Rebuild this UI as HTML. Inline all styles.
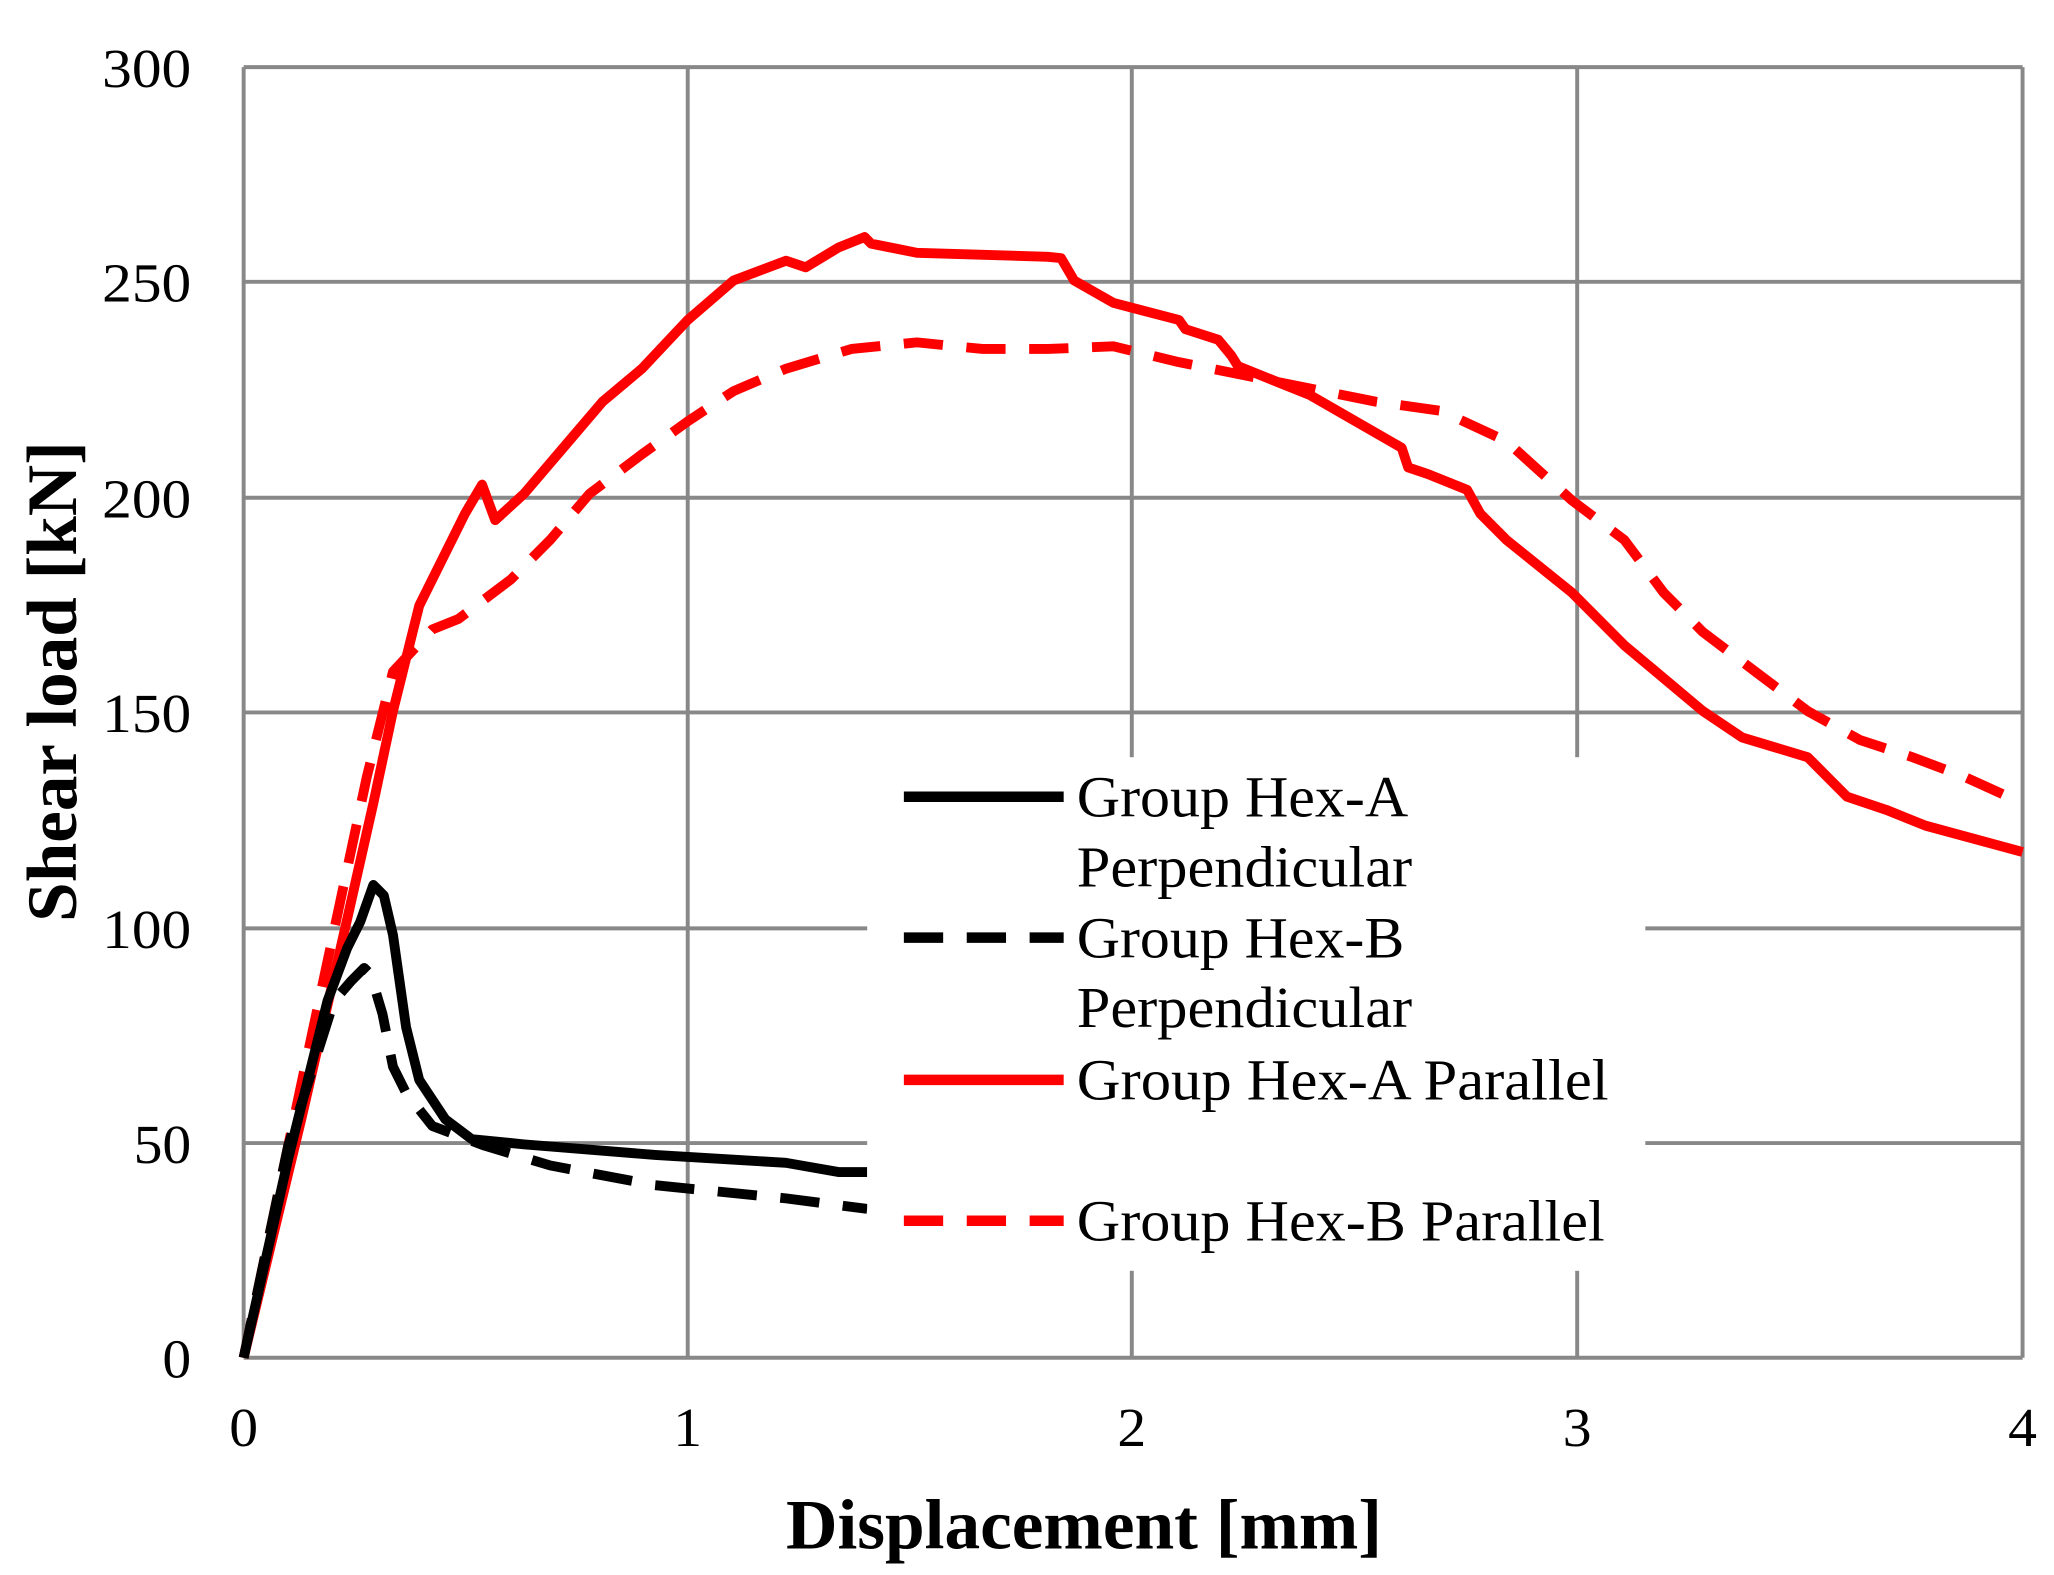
<!DOCTYPE html>
<html><head><style>html,body{margin:0;padding:0;background:#fff}svg{display:block}</style></head>
<body>
<svg width="2054" height="1575" viewBox="0 0 1568 1196" preserveAspectRatio="none" xmlns="http://www.w3.org/2000/svg" font-family="'Liberation Serif', serif">
<rect width="1568" height="1196" fill="#fff"/>
<g stroke="#888" stroke-width="3" fill="none">
<line x1="186" y1="51" x2="1544" y2="51"/><line x1="186" y1="214" x2="1544" y2="214"/><line x1="186" y1="378" x2="1544" y2="378"/><line x1="186" y1="541" x2="1544" y2="541"/><line x1="186" y1="705" x2="1544" y2="705"/><line x1="186" y1="868" x2="1544" y2="868"/><line x1="186" y1="1031" x2="1544" y2="1031"/>
<line x1="186" y1="51" x2="186" y2="1031"/><line x1="525" y1="51" x2="525" y2="1031"/><line x1="864" y1="51" x2="864" y2="1031"/><line x1="1204" y1="51" x2="1204" y2="1031"/><line x1="1544" y1="51" x2="1544" y2="1031"/>
</g>
<g fill="none" stroke-width="7.5" stroke-linejoin="round" stroke-linecap="butt">
<polyline stroke="#f00" points="186,1031 230,850 260,720 285,610 300,540 320,460 340,420 355,390 368,368 378,395 400,375 430,340 460,305 490,280 525,243 560,213 600,198 615,203 640,188 660,180 665,185 700,192 800,195 810,196 820,213 850,230 900,243 905,250 930,258 940,270 945,278 1000,300 1070,340 1075,355 1090,360 1120,372 1130,390 1150,410 1200,450 1240,490 1270,515 1300,540 1330,560 1380,575 1395,590 1410,605 1440,615 1470,627 1544,647"/>
<polyline stroke="#f00" stroke-dasharray="30,18" points="186,1031 220,870 250,730 280,590 300,510 330,478 350,470 370,455 390,440 420,410 450,375 490,345 525,320 560,297 600,280 650,265 700,260 750,265 800,265 850,263 900,275 950,285 1000,295 1050,305 1100,312 1150,335 1200,380 1240,410 1270,450 1300,480 1340,510 1380,540 1420,562 1460,575 1500,590 1544,610"/>
<polyline stroke="#000" points="186,1031 220,880 250,760 265,720 275,700 285,672 293,680 300,710 310,780 320,820 340,850 360,865 400,869 500,877 600,883 640,890 662,890"/>
<polyline stroke="#000" stroke-dasharray="30,18" points="186,1031 220,870 255,760 268,745 278,735 283,740 292,770 300,810 310,830 330,855 370,870 420,885 500,900 600,910 662,918"/>
</g>
<rect x="662" y="575" width="594" height="390" fill="#fff"/>
<g stroke-width="8">
<line x1="690" y1="605" x2="812" y2="605" stroke="#000"/>
<line x1="690" y1="712" x2="812" y2="712" stroke="#000" stroke-dasharray="30,18"/>
<line x1="690" y1="820" x2="812" y2="820" stroke="#f00"/>
<line x1="690" y1="927" x2="812" y2="927" stroke="#f00" stroke-dasharray="30,18"/>
</g>
<g font-size="44" fill="#000" lengthAdjust="spacingAndGlyphs">
<text x="822" y="620" textLength="253" lengthAdjust="spacingAndGlyphs">Group Hex-A</text>
<text x="822" y="673" textLength="256" lengthAdjust="spacingAndGlyphs">Perpendicular</text>
<text x="822" y="727" textLength="250" lengthAdjust="spacingAndGlyphs">Group Hex-B</text>
<text x="822" y="780" textLength="256" lengthAdjust="spacingAndGlyphs">Perpendicular</text>
<text x="822" y="835" textLength="406" lengthAdjust="spacingAndGlyphs">Group Hex-A Parallel</text>
<text x="822" y="942" textLength="403" lengthAdjust="spacingAndGlyphs">Group Hex-B Parallel</text>
</g>
<g font-size="42" fill="#000">
<text x="78" y="66" textLength="68" lengthAdjust="spacingAndGlyphs">300</text>
<text x="78" y="229" textLength="68" lengthAdjust="spacingAndGlyphs">250</text>
<text x="78" y="393" textLength="68" lengthAdjust="spacingAndGlyphs">200</text>
<text x="78" y="556" textLength="68" lengthAdjust="spacingAndGlyphs">150</text>
<text x="78" y="720" textLength="68" lengthAdjust="spacingAndGlyphs">100</text>
<text x="102" y="883" textLength="44" lengthAdjust="spacingAndGlyphs">50</text>
<text x="124" y="1046" textLength="22" lengthAdjust="spacingAndGlyphs">0</text>
</g>
<g font-size="42" fill="#000">
<text x="175" y="1098" textLength="22" lengthAdjust="spacingAndGlyphs">0</text>
<text x="514" y="1098" textLength="22" lengthAdjust="spacingAndGlyphs">1</text>
<text x="853" y="1098" textLength="22" lengthAdjust="spacingAndGlyphs">2</text>
<text x="1193" y="1098" textLength="22" lengthAdjust="spacingAndGlyphs">3</text>
<text x="1533" y="1098" textLength="22" lengthAdjust="spacingAndGlyphs">4</text>
</g>
<text x="600" y="1176" font-size="54" font-weight="bold" textLength="455" lengthAdjust="spacingAndGlyphs">Displacement [mm]</text>
<text transform="translate(58,700) rotate(-90)" font-size="54" font-weight="bold" textLength="365" lengthAdjust="spacingAndGlyphs">Shear load [kN]</text>
</svg>
</body></html>
